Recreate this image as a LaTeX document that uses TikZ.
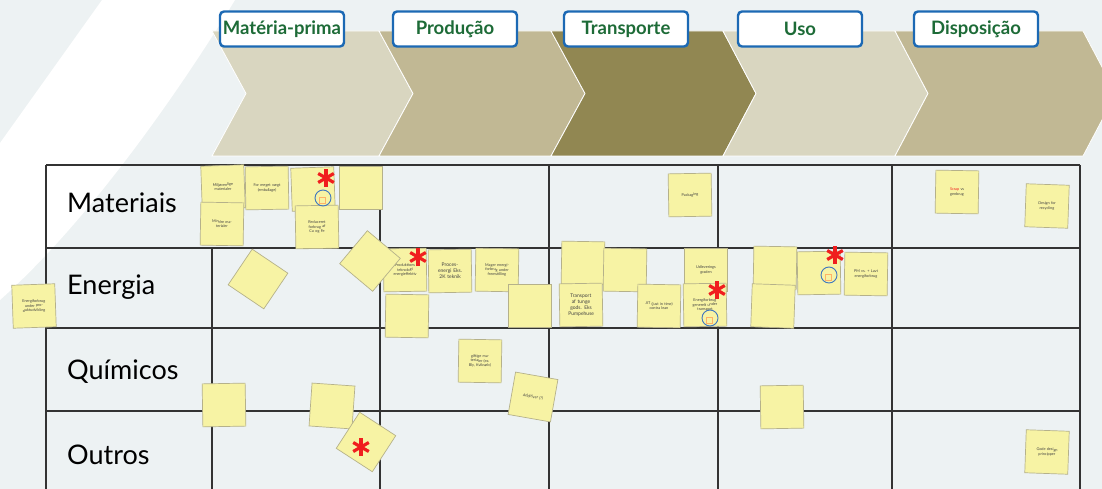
\documentclass[tikz,border=0pt]{standalone}
\usepackage{fontspec}
\setmainfont{Lato}

\definecolor{bgblue}{HTML}{EDF2F3}
\definecolor{chevlight}{HTML}{D9D6C0}
\definecolor{chevmid}{HTML}{C1B894}
\definecolor{chevdark}{HTML}{918752}
\definecolor{headblue}{HTML}{1C69B4}
\definecolor{headgreen}{HTML}{1D6B37}
\definecolor{notefill}{HTML}{F7F3A4}
\definecolor{noteedge}{HTML}{B5B18A}
\definecolor{gridline}{HTML}{333333}
\definecolor{markred}{HTML}{F01E1E}
\definecolor{ringblue}{HTML}{3E76BF}

\tikzset{
	chevron/.style={draw=white, line width=0.8pt},
	header/.style={draw=headblue, line width=2.4pt, fill=white, rounded corners=4pt, minimum width=124pt, minimum height=35pt, inner sep=0pt, text=headgreen, font=\fontsize{18.5}{20}\selectfont\bfseries},
	rowlabel/.style={anchor=base west, inner sep=0pt, font=\fontsize{27}{30}\selectfont},
	note/.style={fill=notefill, draw=noteedge, line width=0.7pt, minimum size=43pt, inner sep=1pt, text width=28pt, align=center, font=\fontsize{3.8}{4.6}\selectfont, text=black!75},
	bignote/.style={note, font=\fontsize{5}{6}\selectfont},
	redmark/.pic={\foreach \a in {90,30,150} \draw[markred, line width=3.2pt] (\a:-9pt) -- (\a:9pt);},
	ring/.pic={\draw[ringblue, line width=0.9pt] (0,0) circle (8pt); \draw[orange!60, line width=0.4pt] (-4pt,-5pt) rectangle (2pt,1pt);},
}

\begin{document}
\begin{tikzpicture}[x=1pt,y=-1pt]
	\useasboundingbox (0,0) rectangle (1102,489);
	% background and swoosh
	\fill[bgblue] (0,0) rectangle (1102,489);
	\fill[white] (102,0) -- (235,0) .. controls (180,90) and (90,220) .. (0,300) -- (0,143) -- cycle;

	% value chain
	\draw[chevron, fill=chevlight] (212,31) -- (379,31) -- (413,93.5) -- (379,156) -- (212,156) -- (246,93.5) -- cycle;
	\draw[chevron, fill=chevmid] (379,31) -- (551,31) -- (585,93.5) -- (551,156) -- (379,156) -- (413,93.5) -- cycle;
	\draw[chevron, fill=chevdark] (551,31) -- (723,31) -- (756,93.5) -- (723,156) -- (551,156) -- (585,93.5) -- cycle;
	\draw[chevron, fill=chevlight] (723,31) -- (895,31) -- (928,93.5) -- (895,156) -- (723,156) -- (756,93.5) -- cycle;
	\draw[chevron, fill=chevmid] (895,31) -- (1083,31) -- (1116,93.5) -- (1083,156) -- (895,156) -- (928,93.5) -- cycle;

	\node[header] (hMat) at (282,29) {Matéria-prima};
	\node[header] (hProd) at (455,29) {Produção};
	\node[header] (hTrans) at (626,29) {Transporte};
	\node[header] (hUso) at (800,29) {Uso};
	\node[header] (hDisp) at (976,29) {Disposição};

	% grid
	\draw[gridline, line width=1.2pt] (46,165) -- (1080,165) (46,248) -- (1080,248) (46,328) -- (1080,328) (46,411) -- (1080,411);
	\draw[gridline, line width=1.2pt] (46,165) -- (46,489) (212,248) -- (212,489) (380,165) -- (380,489) (549,165) -- (549,489) (718,165) -- (718,489) (892,165) -- (892,489) (1080,165) -- (1080,489);

	\node[rowlabel] (lMat) at (67,212) {Materiais};
	\node[rowlabel] (lEne) at (67,294) {Energia};
	\node[rowlabel] (lQui) at (67,379) {Químicos};
	\node[rowlabel] (lOut) at (67,464) {Outros};

	% Materiais
	\node[note, rotate=2] (m1) at (223,187) {Miljøvenlige materialer};
	\node[note, rotate=1] (m2) at (267,188) {For meget vægt (emballage)};
	\node[note, rotate=2] (m3) at (313,189) {};
	\node[note] (m4) at (361,188) {};
	\node[note, rotate=-1] (m5) at (222,224) {Mindre materialer};
	\node[note, rotate=1] (m6) at (317,227) {Reduceret forbrug af Cu og Fe};
	\node[note, rotate=1] (m7) at (690,195) {Packaging};
	\node[note, rotate=-1] (m8) at (957,192) {{\color{markred}Scrap} vs genbrug};
	\node[note, rotate=-2] (m9) at (1047,206) {Design for recycling};

	% Energia
	\node[note, rotate=2] (e0) at (34,306) {Energiforbrug under produktudvikling};
	\node[note, rotate=-34] (e1) at (258,279) {};
	\node[note, rotate=1] (e3) at (405,270) {Produktions teknologi energieffektiv};
	\node[note, rotate=-1] (e4) at (407,316) {};
	\node[note, rotate=-40] (e2) at (370,261) {};
	\node[bignote, rotate=1] (e5) at (450,271) {Proces-energi Eks. 2K teknik};
	\node[note, rotate=-1] (e6) at (497,270) {Mager energiforbrug under fremstilling};
	\node[note] (e7) at (530,306) {};
	\node[note, rotate=-1] (e8) at (583,263) {};
	\node[bignote, rotate=1] (e9) at (581,305) {Transport af tunge gods. Eks Pumpehuse};
	\node[note, rotate=-1] (e10) at (625,270) {};
	\node[note, rotate=-1] (e11) at (659,306) {JIT (just in time) contra lean};
	\node[note] (e12) at (706,270) {Udleverings graden};
	\node[note, rotate=1] (e13) at (705,305) {Energiforbrug generelt under transport};
	\node[note, rotate=-1] (e14) at (775,268) {};
	\node[note, rotate=-2] (e15) at (773,306) {};
	\node[note, rotate=1] (e16) at (819,273) {};
	\node[note, rotate=-1] (e17) at (866,274) {PM vs. + Lavt energiforbrug};

	% Quimicos and Outros
	\node[note, rotate=-1] (q1) at (480,361) {giftige materialer (ex. Bly, Kviksølv)};
	\node[note, rotate=-10] (q2) at (533,397) {Additiver (?)};
	\node[note, rotate=1] (q3) at (224,405) {};
	\node[note, rotate=-4] (q4) at (332,406) {};
	\node[note, rotate=-33] (q5) at (366,442) {};
	\node[note, rotate=1] (q6) at (782,407) {};
	\node[note, rotate=-2] (q7) at (1047,452) {Gode design principper};

	% marks
	\pic at (323,198) {ring};
	\pic at (710,318) {ring};
	\pic at (829,275) {ring};
	\pic at (326,178) {redmark};
	\pic at (418,257) {redmark};
	\pic at (717,290) {redmark};
	\pic at (835,255) {redmark};
	\pic at (361,447) {redmark};
\end{tikzpicture}
\end{document}
